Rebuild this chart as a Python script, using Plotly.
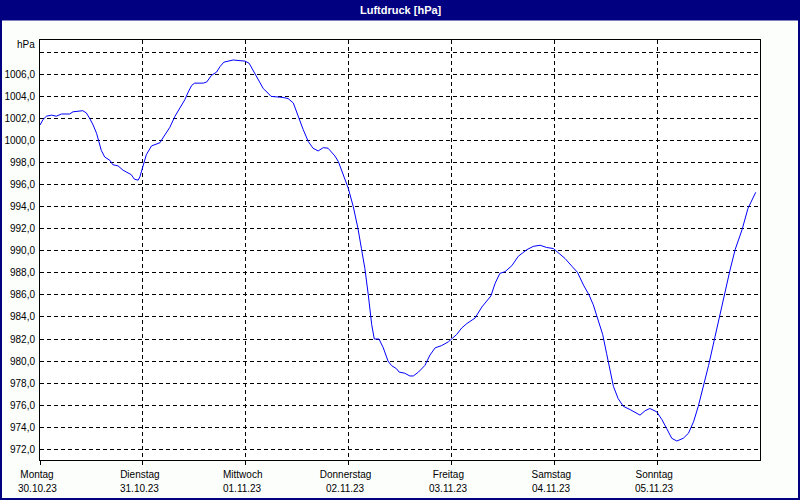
import datetime as dt
import plotly.graph_objects as go

# --- data ---
tage = ["Montag", "Dienstag", "Mittwoch", "Donnerstag", "Freitag", "Samstag", "Sonntag"]
datum = ["30.10.23", "31.10.23", "01.11.23", "02.11.23", "03.11.23", "04.11.23", "05.11.23"]
tag_start = ["2023-10-30", "2023-10-31", "2023-11-01", "2023-11-02", "2023-11-03", "2023-11-04", "2023-11-05"]

stunden = [
    0.0, 0.7, 1.5, 2.7, 3.8, 5.0, 6.9, 7.7, 10.0, 10.8, 11.6, 12.4, 13.2, 13.8, 14.3, 15.1,
    16.3, 17.0, 18.2, 19.4, 20.5, 21.3, 22.0, 22.9, 23.3, 24.1, 24.8, 26.0, 27.2, 28.0,
    28.3, 29.5, 30.3, 31.5, 32.6, 33.8, 34.6, 35.4, 36.1, 38.1, 38.9, 40.0, 41.2, 42.0,
    42.9, 44.3, 45.1, 46.2, 47.8, 48.8, 49.5, 50.4, 51.3, 52.1, 53.2, 53.9, 56.7,
    57.9, 59.1, 60.2, 61.4, 62.6, 63.7, 64.9, 66.1, 67.2, 68.8, 69.6, 70.7, 71.9, 73.1,
    74.2, 75.0, 75.8, 76.6, 77.4, 78.0, 79.1, 80.1, 81.2, 82.0, 83.2, 83.8,
    85.1, 86.3, 87.1, 88.3, 89.8, 91.0, 92.2, 93.7, 95.3, 97.2, 98.4, 99.6, 101.5,
    103.1, 105.2, 106.2, 107.3, 108.5, 110.1, 111.6, 112.8,
    113.6, 115.1, 116.7, 118.2, 119.8, 121.3, 122.5, 124.1, 125.4, 126.8, 128.1, 129.1,
    130.3, 131.3, 132.2, 133.0, 133.8, 134.9, 136.1, 137.7, 139.6,
    140.0, 141.2, 142.3, 143.9, 145.1, 146.2, 147.4, 148.6, 150.1, 151.3, 152.5, 153.6,
    154.8, 156.0, 157.5, 158.7, 159.9, 161.0, 162.2, 163.8, 165.2, 166.1, 167.0,
]
luftdruck = [
    1001.4, 1001.9, 1002.2, 1002.3, 1002.2, 1002.4, 1002.4, 1002.6, 1002.7, 1002.5, 1002.0,
    1001.4, 1000.65, 999.9, 999.1, 998.5, 998.2, 997.8, 997.7, 997.3, 997.1, 996.9, 996.5,
    996.4, 996.7, 997.8, 998.7, 999.5, 999.7, 999.8,
    1000.0, 1000.8, 1001.2, 1002.2, 1002.9, 1003.7, 1004.4, 1005.0, 1005.2, 1005.2, 1005.3,
    1005.9, 1006.2, 1006.7, 1007.1, 1007.2, 1007.3, 1007.25, 1007.2, 1007.0, 1006.5,
    1005.9, 1005.2, 1004.7, 1004.3, 1004.0, 1003.9,
    1003.8, 1003.4, 1002.2, 1001.0, 999.9, 999.3, 999.05, 999.35, 999.3, 998.6, 998.1,
    996.9, 995.7, 994.0, 992.0, 990.2, 988.4, 986.0, 983.3, 982.0, 982.0, 981.2, 980.0,
    979.6, 979.3, 979.0,
    978.9, 978.65, 978.65, 979.0, 979.6, 980.55, 981.2, 981.4, 981.75, 982.4, 983.0,
    983.4, 983.9, 984.9, 985.9, 987.05, 987.95, 988.1, 988.65, 989.5, 989.9,
    990.1, 990.4, 990.5, 990.3, 990.2, 989.7, 989.3, 988.6, 988.05, 986.9, 986.0, 985.1,
    983.6, 982.4, 980.7, 979.35, 977.7, 976.6, 975.9, 975.6, 975.2,
    975.1, 975.5, 975.7, 975.4, 974.7, 973.9, 973.0, 972.75, 973.0, 973.45, 974.5, 975.9,
    977.7, 979.6, 982.2, 984.3, 986.15, 988.25, 990.1, 991.9, 993.85, 994.6, 995.3,
]
y_ticks = [972, 974, 976, 978, 980, 982, 984, 986, 988, 990, 992, 994, 996, 998,
           1000, 1002, 1004, 1006, 1008]

start = dt.datetime(2023, 10, 30)
zeiten = [start + dt.timedelta(hours=h) for h in stunden]

NAVY = "#000080"
FONT = "Liberation Sans"

W, H = 800, 500
L, R, T, B = 40, 40, 40, 40
PW, PH = W - L - R, H - T - B


def px(xp):
    return (xp - L) / PW


def py(yp):
    return (H - B - yp) / PH


fig = go.Figure()
fig.add_trace(go.Scatter(x=zeiten, y=luftdruck, mode="lines",
                         line=dict(color="#0000FF", width=1), hoverinfo="skip"))

annotations = [
    dict(text="<b>Luftdruck [hPa]</b>", xref="paper", yref="paper",
         x=px(401), y=py(10), xanchor="center", yanchor="middle", showarrow=False,
         font=dict(family=FONT, size=11, color="white")),
    dict(text="hPa", xref="paper", yref="paper",
         x=px(37), y=py(45), xanchor="right", yanchor="middle", showarrow=False,
         font=dict(family=FONT, size=10, color="black")),
]
for ts, d in zip(tag_start, datum):
    annotations.append(dict(text=d, xref="x", yref="paper", x=ts, y=py(488.5),
                            xanchor="center", yanchor="middle", xshift=-3,
                            showarrow=False,
                            font=dict(family=FONT, size=10, color="black")))

fig.update_layout(
    width=W, height=H,
    margin=dict(l=L, r=R, t=T, b=B, autoexpand=False),
    paper_bgcolor="#FCFEFC",
    plot_bgcolor="#FFFFFF",
    showlegend=False,
    separators=",.",
    font=dict(family=FONT, size=10, color="black"),
    xaxis=dict(
        type="date",
        automargin=False,
        range=["2023-10-30", "2023-11-06"],
        tickvals=tag_start,
        ticktext=tage,
        ticks="outside", ticklen=4, tickcolor="black", tickwidth=1,
        showgrid=True, gridcolor="black", gridwidth=1, griddash="4px,3px",
        showline=True, linecolor="black", linewidth=1, mirror=True,
        zeroline=False,
        tickfont=dict(family=FONT, size=10, color="black"),
        ticklabelshift=-3,
        ticklabelstandoff=1,
    ),
    yaxis=dict(
        automargin=False,
        range=[971.03, 1009.11],
        tickvals=y_ticks,
        ticktext=[("" if v == 1008 else f"{v:.1f}".replace(".", ",")) for v in y_ticks],
        ticks="",
        showgrid=True, gridcolor="black", gridwidth=1, griddash="4px,3px",
        showline=True, linecolor="black", linewidth=1, mirror=True,
        zeroline=False,
        tickfont=dict(family=FONT, size=10, color="black"),
        ticklabelstandoff=2,
    ),
    shapes=[
        dict(type="rect", xref="paper", yref="paper",
             x0=px(1), x1=px(799), y0=py(499), y1=py(10),
             line=dict(color=NAVY, width=2), fillcolor="rgba(0,0,0,0)", layer="above"),
        dict(type="rect", xref="paper", yref="paper",
             x0=px(0), x1=px(800), y0=py(20.5), y1=py(0),
             line=dict(width=0), fillcolor=NAVY, layer="above"),
    ],
    annotations=annotations,
)

fig.write_html("out.html")
